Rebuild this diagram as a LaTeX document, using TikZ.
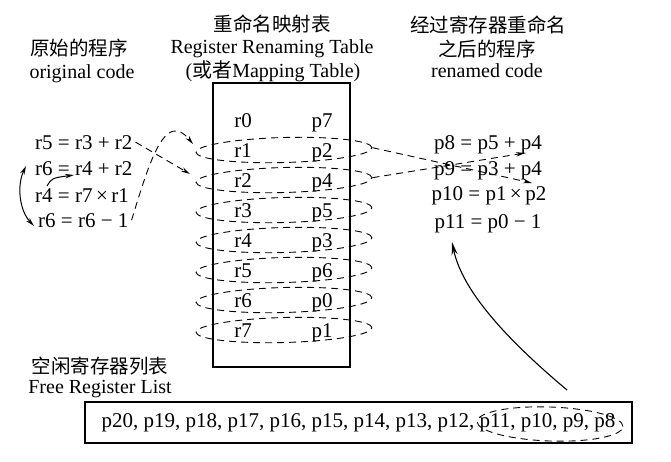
\documentclass[tikz,border=0pt]{standalone}
\usepackage{fontspec}
\setmainfont{Liberation Serif}
\newfontfamily\cjk{Noto Sans CJK SC}
\usetikzlibrary{arrows.meta,shapes.geometric}
\begin{document}
\begin{tikzpicture}[x=1pt,y=-1pt,
  hd/.style={font=\fontsize{20}{24}\selectfont, inner sep=0pt, anchor=base},
  cn/.style={font=\fontsize{19.5}{24}\selectfont\cjk, inner sep=0pt},
  code/.style={font=\fontsize{21}{24}\selectfont, inner sep=0pt},
  dsh/.style={dash pattern=on 7pt off 5pt, line width=0.9pt},
  tipa/.style={-{Stealth[length=9pt,width=4.5pt]}},
  rowell/.style={ellipse, draw, dsh, minimum width=176pt, minimum height=25pt, inner sep=0pt, rotate=1.5},
  box/.style={draw, line width=1.1pt, inner sep=0pt}]
\useasboundingbox (0,0) rectangle (671,461);

% headers
\node[cn] (h1a) at (79,48) {原始的程序};
\node[hd] (h1b) at (82,78) {original code};
\node[cn] (h2a) at (272,24) {重命名映射表};
\node[hd] (h2b) at (272,53) {Register Renaming Table};
\node[hd] (h2c) at (273,77) {({\cjk 或者}Mapping Table)};
\node[cn] (h3a) at (488,25) {经过寄存器重命名};
\node[cn] (h3b) at (487,49) {之后的程序};
\node[hd] (h3c) at (487,77) {renamed code};

% table
\node[box, minimum width=137pt, minimum height=284pt] (tbl) at (281.5,225) {};
\foreach \r/\p [count=\i from 0] in {r0/p7,r1/p2,r2/p4,r3/p5,r4/p3,r5/p6,r6/p0,r7/p1} {
  \node[code, anchor=base] (rl\i) at (243,{127+30*\i}) {\r};
  \node[code, anchor=base] (pl\i) at (322,{127+30*\i}) {\p};
}
\foreach \i in {1,...,7} {
  \node[rowell] (e\i) at (284,{120+30*\i}) {};
}

% original code
\node[code, anchor=base west] (c1) at (35,149) {r5 = r3 + r2};
\node[code, anchor=base west] (c2) at (35,175) {r6 = r4 + r2};
\node[code, anchor=base west] (c3) at (35,202) {r4 = r7\,×\,r1};
\node[code, anchor=base west] (c4) at (38,227) {r6 = r6 − 1};

% renamed code
\node[code, anchor=base] (n1) at (488,149) {p8 = p5 + p4};
\node[code, anchor=base] (n2) at (488,175) {p9 = p3 + p4};
\node[code, anchor=base] (n3) at (489,200) {p10 = p1\,×\,p2};
\node[code, anchor=base] (n4) at (488,228) {p11 = p0 − 1};

% free list
\node[cn] (fla) at (100,366) {空闲寄存器列表};
\node[hd] (flb) at (100,393) {Free Register List};
\node[box, code, minimum width=547pt, minimum height=41pt] (fl) at (358.5,422.5)
  {p20, p19, p18, p17, p16, p15, p14, p13, p12, p11, p10, p9, p8};
\node[ellipse, draw, dsh, minimum width=146pt, minimum height=34pt, inner sep=0pt, rotate=-2] (fe) at (550,424) {};

% coordinates
\coordinate (wa) at (26,166);
\coordinate (wb) at (34,226);
\coordinate (ra) at (47,186);
\coordinate (rb) at (74,175);
\coordinate (la) at (190,174);
\coordinate (lb) at (193,144);
\coordinate (ta) at (532,183);
\coordinate (tb) at (525,153);
\coordinate (fs) at (567,390);
\coordinate (ft) at (452,242);

% dependence arrows
\draw[line width=1pt, {Stealth[length=9pt,width=4.5pt]}-{Stealth[length=9pt,width=4.5pt]}]
  (wa) .. controls (17,185) and (19,210) .. (wb);
\draw[line width=1pt, tipa] (ra) .. controls (52,178) .. (rb);

% dashed mappings
\draw[dsh, tipa] ([xshift=3pt]c1.east) -- (la);
\draw[dsh, tipa] ([xshift=3pt]c4.east) .. controls (150,160) and (165,110) .. (lb);
\draw[dsh, tipa] (e1.east) -- (ta);
\draw[dsh, tipa] (e2.east) -- (tb);

% free list arrow
\draw[line width=1.1pt, -{Stealth[length=13pt,width=6pt]}] (fs) .. controls (505,338) and (462,290) .. (ft);
\end{tikzpicture}
\end{document}
